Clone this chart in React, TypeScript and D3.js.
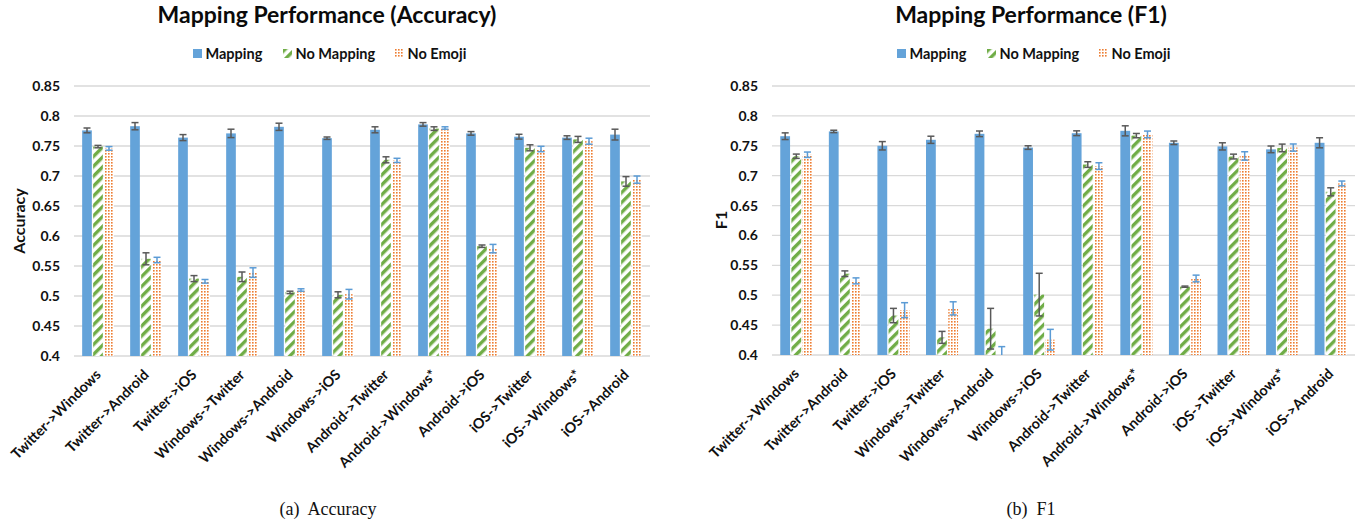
import React from 'react';
import * as d3 from 'd3';

const categories = [
  'Twitter->Windows', 'Twitter->Android', 'Twitter->iOS', 'Windows->Twitter',
  'Windows->Android', 'Windows->iOS', 'Android->Twitter', 'Android->Windows*',
  'Android->iOS', 'iOS->Twitter', 'iOS->Windows*', 'iOS->Android',
];
const seriesNames = ['Mapping', 'No Mapping', 'No Emoji'];
const yTicks = [0.4, 0.45, 0.5, 0.55, 0.6, 0.65, 0.7, 0.75, 0.8, 0.85];

const accMapping = [0.776, 0.783, 0.764, 0.771, 0.782, 0.763, 0.777, 0.786, 0.771, 0.7655, 0.764, 0.769];
const accMappingErr = [0.004, 0.006, 0.005, 0.007, 0.006, 0.002, 0.005, 0.003, 0.003, 0.004, 0.003, 0.009];
const accNoMapping = [0.749, 0.562, 0.529, 0.532, 0.506, 0.502, 0.727, 0.779, 0.583, 0.747, 0.761, 0.691];
const accNoMappingErr = [0.002, 0.01, 0.005, 0.008, 0.002, 0.005, 0.005, 0.003, 0.002, 0.005, 0.005, 0.008];
const accNoEmoji = [0.746, 0.56, 0.5245, 0.539, 0.51, 0.503, 0.726, 0.78, 0.579, 0.745, 0.758, 0.694];
const accNoEmojiErr = [0.003, 0.0045, 0.003, 0.008, 0.002, 0.008, 0.0035, 0.002, 0.007, 0.0045, 0.005, 0.006];

const f1Mapping = [0.766, 0.774, 0.75, 0.76, 0.77, 0.747, 0.771, 0.775, 0.755, 0.749, 0.744, 0.755];
const f1MappingErr = [0.0056, 0.002, 0.007, 0.006, 0.0047, 0.003, 0.004, 0.0084, 0.003, 0.006, 0.0056, 0.0084];
const f1NoMapping = [0.7325, 0.536, 0.466, 0.4295, 0.444, 0.501, 0.7186, 0.767, 0.5143, 0.732, 0.7464, 0.673];
const f1NoMappingErr = [0.0036, 0.0047, 0.012, 0.01, 0.034, 0.0357, 0.0047, 0.0036, 0.001, 0.004, 0.0064, 0.0067];
const f1NoEmoji = [0.735, 0.524, 0.475, 0.478, 0.4, 0.4256, 0.716, 0.769, 0.528, 0.733, 0.747, 0.687];
const f1NoEmojiErr = [0.0045, 0.005, 0.0125, 0.011, 0.014, 0.0173, 0.0056, 0.0056, 0.0056, 0.007, 0.006, 0.004];

const FONT = "Lato, 'Open Sans', sans-serif";
const fills = ['#64A3D9', 'url(#hatchGreen)', 'url(#dotsOrange)'];
const errColors = ['#595959', '#595959', '#5B9BD5'];

type ChartProps = {
  id: string;
  title: string;
  yLabel: string;
  caption: string;
  values: number[][];
  errors: number[][];
  plotX: [number, number];
  plotY: [number, number];
  tickX: number;
  yLabelPos: [number, number];
  titleX: number;
  legendX: number;
  captionX: number;
};

function Legend({ x }: { x: number }) {
  const offsets = [0, 90, 202];
  return (
    <g>
      {seriesNames.map((s, i) => (
        <g key={s} transform={`translate(${x + offsets[i]},49)`}>
          <rect x={0} y={0} width={9} height={9} fill={fills[i]} />
          <text x={12.5} y={10} fontFamily={FONT} fontWeight={700} fontSize={14.5} fill="#111">{s}</text>
        </g>
      ))}
    </g>
  );
}

function Chart(p: ChartProps) {
  const x0 = d3.scaleBand<string>().domain(categories).range(p.plotX).padding(0);
  const y = d3.scaleLinear().domain([0.4, 0.85]).range(p.plotY);
  const gw = x0.bandwidth() * 0.66;
  const x1 = d3.scaleBand<string>().domain(seriesNames).range([-gw / 2, gw / 2]).paddingInner(0.12);
  const bottom = y(0.4);
  return (
    <g>
      <defs>
        <clipPath id={`clip-${p.id}`}>
          <rect x={p.plotX[0]} y={y(0.85) - 2} width={p.plotX[1] - p.plotX[0]} height={bottom - y(0.85) + 2} />
        </clipPath>
      </defs>
      <text x={p.titleX} y={23} textAnchor="middle" fontFamily={FONT} fontWeight={700} fontSize={23} fill="#0a0a0a">{p.title}</text>
      <Legend x={p.legendX} />
      {yTicks.map((t) => (
        <g key={t}>
          <line x1={p.plotX[0]} x2={p.plotX[1]} y1={y(t)} y2={y(t)} stroke="#d9d9d9" strokeWidth={1.3} />
          <text x={p.tickX} y={y(t)} dy="0.36em" textAnchor="end" fontFamily={FONT} fontWeight={700} fontSize={14} fill="#111">{String(t)}</text>
        </g>
      ))}
      <text transform={`translate(${p.yLabelPos[0]},${p.yLabelPos[1]}) rotate(-90)`} dy="0.36em" textAnchor="middle" fontFamily={FONT} fontWeight={700} fontSize={16} fill="#111">{p.yLabel}</text>
      <g clipPath={`url(#clip-${p.id})`}>
        {categories.map((c, ci) => {
          const cx = (x0(c) as number) + x0.bandwidth() / 2;
          return (
            <g key={c}>
              {seriesNames.map((s, si) => {
                const v = p.values[si][ci];
                const bx = cx + (x1(s) as number);
                const top = Math.min(y(v), bottom);
                return (
                  <rect key={s} x={bx} y={top} width={x1.bandwidth()} height={bottom - top} fill={fills[si]} />
                );
              })}
            </g>
          );
        })}
        {categories.map((c, ci) => {
          const cx = (x0(c) as number) + x0.bandwidth() / 2;
          return (
            <g key={c + 'err'}>
              {seriesNames.map((s, si) => {
                const v = p.values[si][ci];
                const e = p.errors[si][ci];
                const ex = cx + (x1(s) as number) + x1.bandwidth() / 2;
                const y1 = y(v + e);
                const y2 = y(v - e);
                const col = errColors[si];
                return (
                  <g key={s} stroke={col} strokeWidth={1.5}>
                    <line x1={ex} x2={ex} y1={y1} y2={y2} />
                    <line x1={ex - 3.5} x2={ex + 3.5} y1={y1} y2={y1} />
                    <line x1={ex - 3.5} x2={ex + 3.5} y1={y2} y2={y2} />
                  </g>
                );
              })}
            </g>
          );
        })}
      </g>
      {categories.map((c) => {
        const cx = (x0(c) as number) + x0.bandwidth() / 2;
        return (
          <text key={c + 'lbl'} transform={`translate(${cx},${bottom + 16}) rotate(-45)`} dy="0.36em" textAnchor="end" fontFamily={FONT} fontWeight={700} fontSize={14.3} fill="#111">{c}</text>
        );
      })}
      <text x={p.captionX} y={515} textAnchor="middle" fontFamily="'Liberation Serif', 'Times New Roman', serif" fontSize={18} fill="#111" xmlSpace="preserve">{p.caption}</text>
    </g>
  );
}

export default function App() {
  return (
    <svg width={1361} height={525} viewBox="0 0 1361 525" style={{ position: 'absolute', left: 0, top: 0, display: 'block', background: '#fff' }}>
      <defs>
        <pattern id="hatchGreen" patternUnits="userSpaceOnUse" width={7} height={7} patternTransform="rotate(45)">
          <rect x={0} y={0} width={7} height={7} fill="#fff" />
          <rect x={0} y={0} width={3.4} height={7} fill="#70AD47" />
        </pattern>
        <pattern id="dotsOrange" patternUnits="userSpaceOnUse" width={3} height={3}>
          <rect x={0} y={0} width={3} height={3} fill="#fff" />
          <rect x={0} y={0} width={1.6} height={1.6} fill="#ED7D31" />
        </pattern>
      </defs>
      <rect x={0} y={0} width={1361} height={525} fill="#fff" />
      <Chart
        id="acc"
        title="Mapping Performance (Accuracy)"
        yLabel="Accuracy"
        caption="(a)  Accuracy"
        values={[accMapping, accNoMapping, accNoEmoji]}
        errors={[accMappingErr, accNoMappingErr, accNoEmojiErr]}
        plotX={[74, 650]}
        plotY={[356, 86]}
        tickX={60}
        yLabelPos={[19, 221]}
        titleX={327}
        legendX={193}
        captionX={328}
      />
      <Chart
        id="f1"
        title="Mapping Performance (F1)"
        yLabel="F1"
        caption="(b)  F1"
        values={[f1Mapping, f1NoMapping, f1NoEmoji]}
        errors={[f1MappingErr, f1NoMappingErr, f1NoEmojiErr]}
        plotX={[772, 1355]}
        plotY={[355, 86]}
        tickX={758}
        yLabelPos={[721, 220]}
        titleX={1031}
        legendX={897}
        captionX={1031}
      />
    </svg>
  );
}
